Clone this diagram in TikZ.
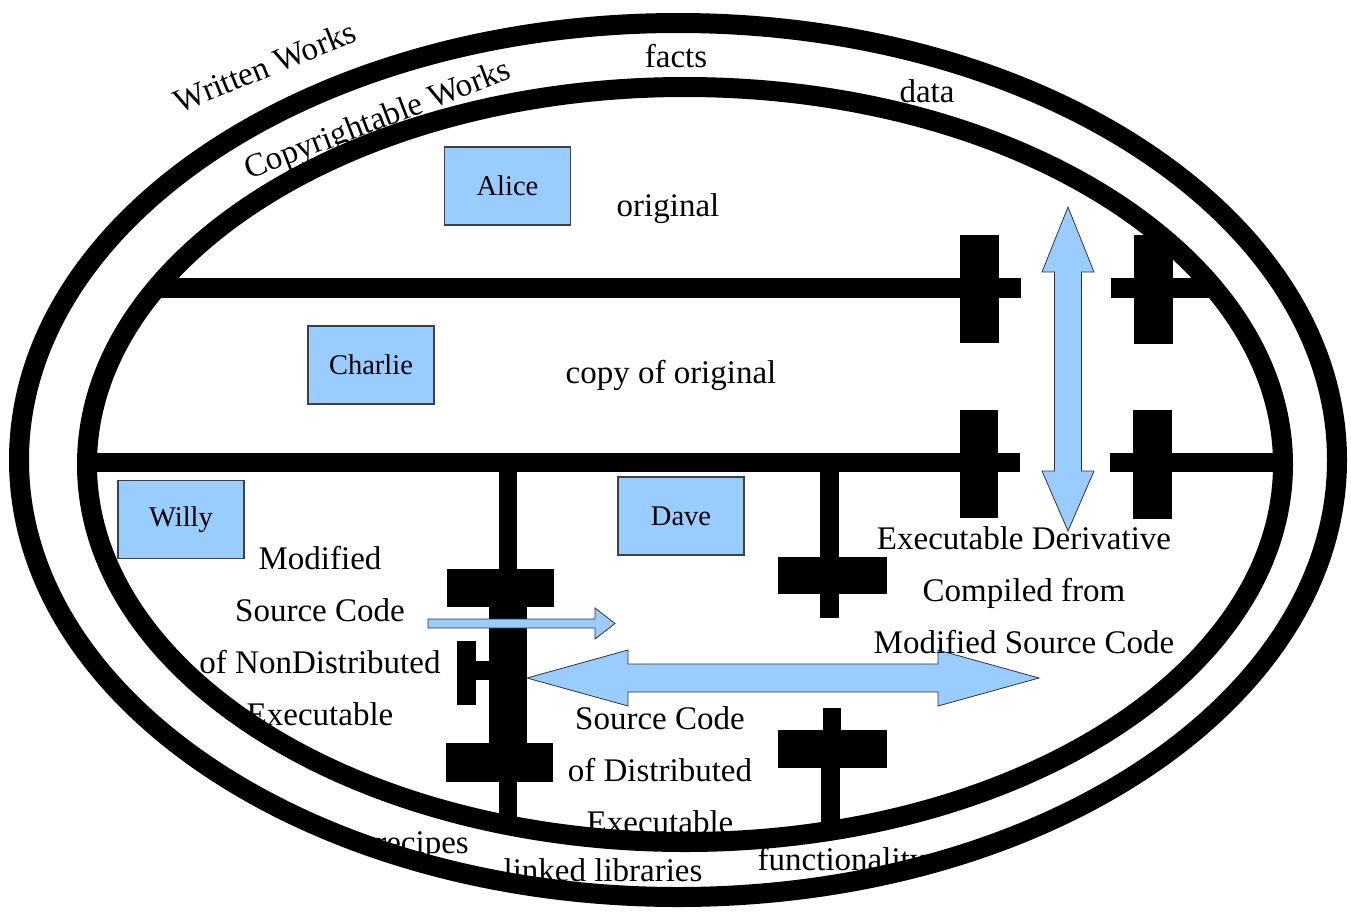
\documentclass[tikz,border=0pt]{standalone}
\usepackage{fontspec}
\setmainfont{Liberation Serif}
\definecolor{boxblue}{HTML}{99CCFF}
\begin{document}
\begin{tikzpicture}[x=1pt,y=-1pt,
  lbl/.style={inner sep=0pt, font=\fontsize{33}{52}\selectfont},
  who/.style={draw=black!75, line width=1.2pt, fill=boxblue, minimum width=126pt,
              minimum height=78pt, inner sep=0pt, font=\fontsize{28.5}{34}\selectfont},
  ring/.style={line width=20pt},
  blockarrow/.style={fill=boxblue, draw=black!80, line width=0.8pt, line join=miter}]
\useasboundingbox (0,0) rectangle (1351,911);

% outer ring: written works
\draw[ring] (678,460) ellipse [x radius=659, y radius=437];

% bands, barriers and stems inside the copyrightable works ring
\begin{scope}
  \clip (685,464.5) ellipse [x radius=598, y radius=377.5];
  % upper band line with its break
  \fill (80,277.5) rectangle (1021,297.5);
  \fill (1111,277.5) rectangle (1295,297.5);
  \fill (960,235) rectangle (999,343);
  \fill (1134,235) rectangle (1173,344);
  % lower band line with its break
  \fill (80,453) rectangle (1020,472);
  \fill (1110,453) rectangle (1295,472);
  \fill (960,410) rectangle (998,518);
  \fill (1133,410) rectangle (1172,519);
  % left stem with its barriers
  \fill (499,453) rectangle (517,850);
  \fill (447,569) rectangle (554,607);
  \fill (489,607) rectangle (527,743);
  \fill (446,743) rectangle (553,782);
  \fill (457,641) rectangle (476,705);
  \fill (476,661) rectangle (489,680);
  % right stem from the lower band
  \fill (820,462) rectangle (839,557);
  \fill (778,557) rectangle (887,594);
  \fill (820,594) rectangle (839,618);
  % right stem from the bottom
  \fill (823,708) rectangle (841,730);
  \fill (778,730) rectangle (887,768);
  \fill (821,768) rectangle (840,850);
\end{scope}

% inner ring: copyrightable works
\draw[ring] (685,464.5) ellipse [x radius=598, y radius=377.5];

% block arrows
\draw[blockarrow] (1068,207) -- (1094,272) -- (1081.5,272) -- (1081.5,471) -- (1094,471)
  -- (1068,531) -- (1042,471) -- (1054.5,471) -- (1054.5,272) -- (1042,272) -- cycle;
\draw[blockarrow] (527,678) -- (628,650) -- (628,664) -- (938,664) -- (938,650) -- (1039,678)
  -- (938,706) -- (938,692) -- (628,692) -- (628,706) -- cycle;
\draw[blockarrow] (428,619) -- (595,619) -- (595,608) -- (615,623.5) -- (595,639)
  -- (595,628) -- (428,628) -- cycle;

% people
\node[who] (alice)   at (507.5,186)  {Alice};
\node[who] (charlie) at (371,365)    {Charlie};
\node[who] (willy)   at (181,519.5)  {Willy};
\node[who] (dave)    at (681,516)    {Dave};

% labels
\node[lbl, anchor=base, rotate=22] (written)   at (269,77)  {Written Works};
\node[lbl, anchor=base, rotate=21] (copyright) at (381,129) {Copyrightable Works};
\node[lbl, anchor=base] (facts)   at (676,67)  {facts};
\node[lbl, anchor=base] (data)    at (927,102) {data};
\node[lbl, anchor=base] (orig)    at (668,216) {original};
\node[lbl, anchor=base] (copy)    at (671,383) {copy of original};
\node[lbl, anchor=north, align=center] (modsrc) at (320,546.5)
  {Modified\\Source Code\\of NonDistributed\\Executable};
\node[lbl, anchor=north, align=center] (exeder) at (1024,526.5)
  {Executable Derivative\\Compiled from\\Modified Source Code};
\node[lbl, anchor=north, align=center] (distsrc) at (660,706.5)
  {Source Code\\of Distributed\\Executable};
\node[lbl, anchor=base] (recipes) at (422,853) {recipes};
\node[lbl, anchor=base] (linked)  at (603,881) {linked libraries};
\node[lbl, anchor=base] (func)    at (842,870) {functionality};
\end{tikzpicture}
\end{document}
